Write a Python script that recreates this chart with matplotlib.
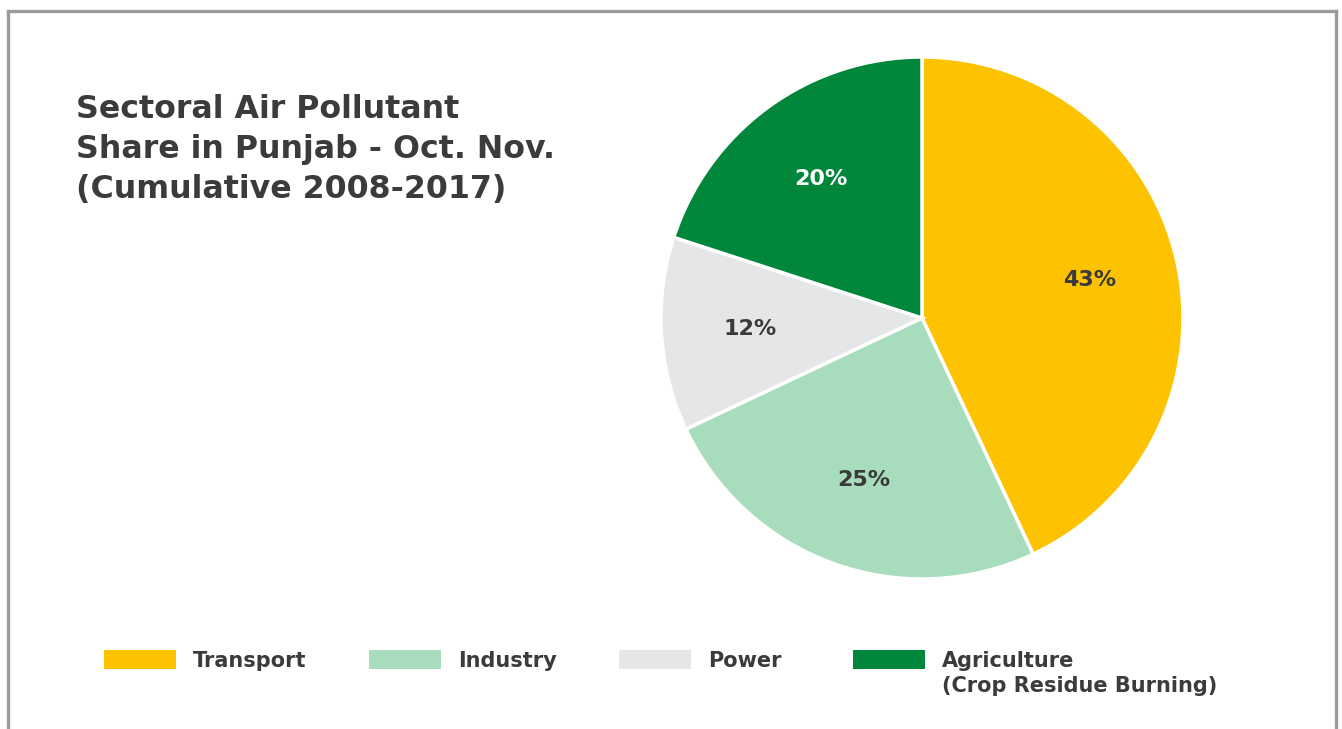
import matplotlib.pyplot as plt
from matplotlib.lines import Line2D
from matplotlib.patches import Rectangle

# sector shares (%), clockwise from 12 o'clock
sectors = ["Transport", "Industry", "Power", "Agriculture"]
legend_labels = ["Transport", "Industry", "Power", "Agriculture\n(Crop Residue Burning)"]
shares = [43, 25, 12, 20]
colors = ["#FDC300", "#A7DCBC", "#E5E6E8", "#00873C"]
pct_colors = ["#3a3a3a", "#3a3a3a", "#3a3a3a", "white"]

TEXT = "#3b3b3b"
W, H = 1342, 729


def px(x, y):
    """pixel position (from top-left) -> figure fraction"""
    return x / W, 1 - y / H


def main():
    fig = plt.figure(figsize=(W / 100, H / 100), dpi=100)
    fig.patch.set_facecolor("white")

    # grey frame (left, top, right; bottom runs off the image)
    frame_kw = dict(color="#9b9b9b", linewidth=2.4, transform=fig.transFigure)
    x0, y0 = px(8, 11)
    x1, _ = px(1336, 11)
    fig.add_artist(Line2D([x0, x1], [y0, y0], **frame_kw))
    fig.add_artist(Line2D([x0, x0], [y0, -0.01], **frame_kw))
    fig.add_artist(Line2D([x1, x1], [y0, -0.01], **frame_kw))

    # title
    tx, ty = px(76, 94)
    fig.text(tx, ty, "Sectoral Air Pollutant\nShare in Punjab - Oct. Nov.\n(Cumulative 2008-2017)",
             fontsize=22.8, fontweight="bold", color=TEXT, va="top", ha="left",
             linespacing=1.38, family="DejaVu Sans")

    # pie
    r = 261 * 1.01
    cx, cy = 922, 318
    left, bottom = px(cx - r, cy + r)
    ax = fig.add_axes([left, bottom, 2 * r / W, 2 * r / H])
    wedges, _, autotexts = ax.pie(
        shares, colors=colors, startangle=90, counterclock=False,
        autopct=lambda p: f"{p:.0f}%", pctdistance=0.66,
        wedgeprops=dict(edgecolor="white", linewidth=2.5),
        textprops=dict(fontsize=16, fontweight="bold"))
    for t, c in zip(autotexts, pct_colors):
        t.set_color(c)
    ax.set_xlim(-1.01, 1.01)
    ax.set_ylim(-1.01, 1.01)
    ax.set_aspect("equal")

    # legend, drawn by hand so the two-line label keeps its swatch on the first line
    legend_x = [104, 369, 619, 853]
    for xpos, label, c in zip(legend_x, legend_labels, colors):
        sx, sy = px(xpos, 669)
        fig.add_artist(Rectangle((sx, sy), 72 / W, 19 / H, facecolor=c,
                                 edgecolor="none", transform=fig.transFigure))
        lx, ly = px(xpos + 89, 651)
        fig.text(lx, ly, label, fontsize=15, fontweight="bold", color=TEXT,
                 va="top", ha="left", linespacing=1.3)

    fig.savefig("out.png", dpi=100, facecolor="white")


if __name__ == "__main__":
    main()
